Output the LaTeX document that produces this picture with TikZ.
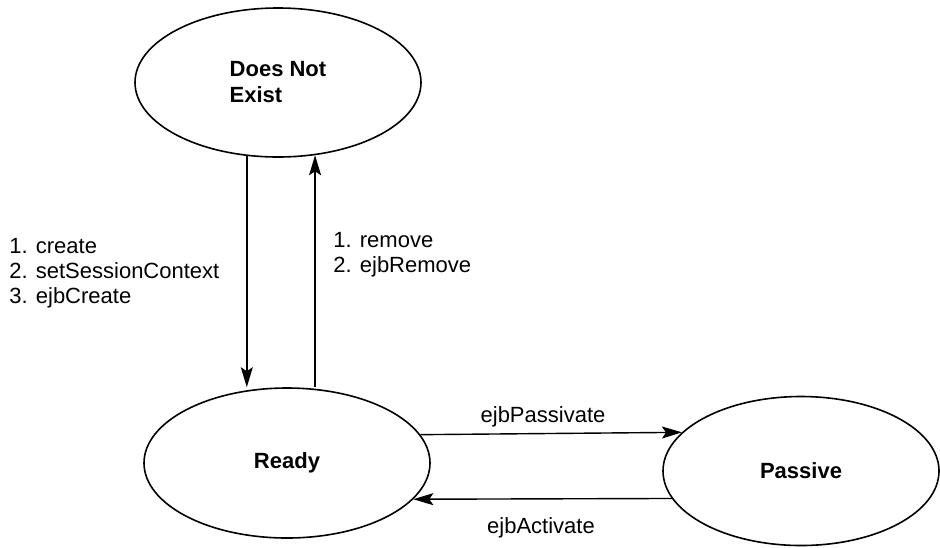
\documentclass[tikz,border=0pt]{standalone}
\usepackage{fontspec}
\setmainfont{Liberation Sans}
\usetikzlibrary{shapes.geometric,arrows.meta}
\begin{document}
\begin{tikzpicture}[x=0.5pt,y=-0.5pt,
  every node/.style={font=\fontsize{11}{12.5}\selectfont},
  tilstand/.style={draw,ellipse,line width=0.8pt,inner sep=0pt,align=left,
    font=\fontsize{11}{13}\selectfont\bfseries},
  pil/.style={-{Stealth[length=10pt,width=6pt,inset=2pt]},line width=0.7pt},
  etiket/.style={inner sep=0pt,align=left}]
  \useasboundingbox (0,0) rectangle (940,547);
  %tilstande
  	\node[tilstand,minimum width=143pt,minimum height=74.5pt] (dne) at (278,82.5) {Does Not\\Exist};
  	\node[tilstand,minimum width=143pt,minimum height=75pt] (ready) at (287,463) {Ready};
  	\node[tilstand,minimum width=138pt,minimum height=74.5pt] (passive) at (801,471) {Passive};

  %create og remove
  	\draw[pil] (dne.247.61) -- (dne.247.61 |- ready.north);
  	\draw[pil] (dne.297.21 |- ready.north) -- (dne.297.21);
  	\node[etiket,anchor=west] (lcreate) at (9,273) {1. create\\2. setSessionContext\\3. ejbCreate};
  	\node[etiket,anchor=west] (lremove) at (333,254.5) {1. remove\\2. ejbRemove};

  %passivate og activate
  	\draw[pil] (ready.12.40) -- (passive.162.84);
  	\draw[pil] (passive.192.35) -- (ready.344.0);
  	\node[etiket] (lpassivate) at (543,417) {ejbPassivate};
  	\node[etiket] (lactivate) at (541,528) {ejbActivate};
\end{tikzpicture}
\end{document}
